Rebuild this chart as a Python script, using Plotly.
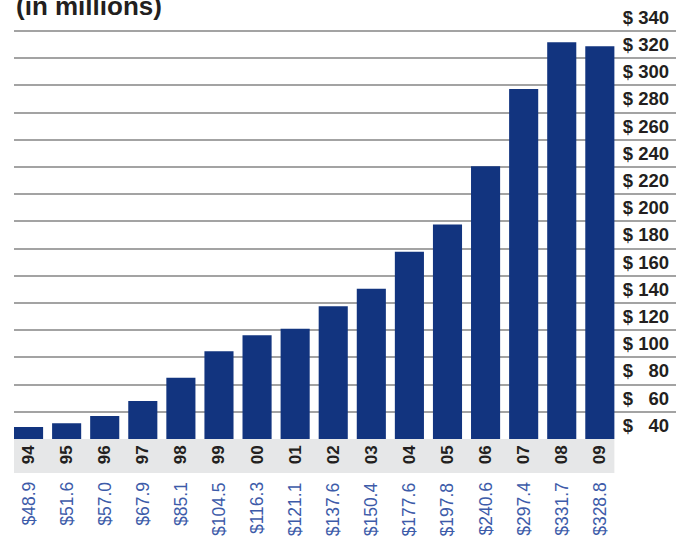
import plotly.graph_objects as go

# Fiscal years (two-digit) and revenue in $ millions
years = ["94", "95", "96", "97", "98", "99", "00", "01",
         "02", "03", "04", "05", "06", "07", "08", "09"]
revenue = [48.9, 51.6, 57.0, 67.9, 85.1, 104.5, 116.3, 121.1,
           137.6, 150.4, 177.6, 197.8, 240.6, 297.4, 331.7, 328.8]

# Value scale: gridlines every $20M, labels sit in the band above each line
grid_values = [40, 60, 80, 100, 120, 140, 160, 180, 200,
               220, 240, 260, 280, 300, 320, 340]
FS = "\u2007"  # figure space, same width as a digit
tick_labels = [f"$ {FS}40", f"$ {FS}60", f"$ {FS}80", "$ 100", "$ 120",
               "$ 140", "$ 160", "$ 180", "$ 200", "$ 220", "$ 240",
               "$ 260", "$ 280", "$ 300", "$ 320", "$ 340"]

BAR_COLOR = "#12347f"
LABEL_BLUE = "#3d5ba9"
TEXT_DARK = "#231f20"
GRID_COLOR = "#a3a3a3"
BAND_GREY = "#e6e7e8"
FONT = "Liberation Sans, Arial, Helvetica, sans-serif"

BARGAP = 0.236
y_min, y_max = 40, 362.8
x_lo = -0.5 + BARGAP / 2
x_hi = 17.0

fig = go.Figure()
fig.add_trace(go.Bar(
    x=years, y=revenue,
    marker=dict(color=BAR_COLOR, line=dict(width=0)),
    hoverinfo="x+y",
))

# Grey band behind the year labels, spanning the bars
fig.add_shape(
    type="rect", xref="x", yref="paper", layer="below",
    x0=x_lo, x1=len(years) - 0.5 - BARGAP / 2,
    ysizemode="pixel", yanchor=0, y0=0, y1=-34,
    fillcolor=BAND_GREY, line=dict(width=0),
)

# Dollar values written vertically beneath each year
for i, v in enumerate(revenue):
    fig.add_annotation(
        x=i, xref="x", y=0, yref="paper",
        text=f"${v:.1f}", textangle=-90,
        xanchor="center", yanchor="top", yshift=-41,
        showarrow=False,
        font=dict(family=FONT, size=17.5, color=LABEL_BLUE),
    )

fig.add_annotation(
    x=0, xref="paper", xanchor="left",
    y=1, yref="paper", yanchor="bottom", yshift=-23,
    text="<b>(in millions)</b>", showarrow=False,
    font=dict(family=FONT, size=26, color=TEXT_DARK),
)

fig.update_layout(
    width=688, height=537,
    margin=dict(l=14, r=12, t=0, b=98),
    paper_bgcolor="white", plot_bgcolor="white",
    bargap=BARGAP,
    showlegend=False,
    font=dict(family=FONT, color=TEXT_DARK),
    xaxis=dict(
        type="category", range=[x_lo, x_hi],
        showgrid=False, zeroline=False, showline=False,
        ticks="", tickangle=-90, ticklabelstandoff=2,
        tickfont=dict(family=FONT, size=17, color=TEXT_DARK, weight="bold"),
    ),
    yaxis=dict(
        side="right", range=[y_min, y_max],
        tickmode="array",
        tickvals=[v + 10 for v in grid_values], ticktext=tick_labels,
        ticklabelposition="inside", ticks="", ticklabelstandoff=4,
        showgrid=False, zeroline=False, showline=False,
        tickfont=dict(family=FONT, size=18.5, color=TEXT_DARK, weight="bold"),
        minor=dict(tickmode="array", tickvals=grid_values, showgrid=True,
                   gridcolor=GRID_COLOR, gridwidth=1.5, ticks=""),
    ),
)

fig.write_html("out.html")
